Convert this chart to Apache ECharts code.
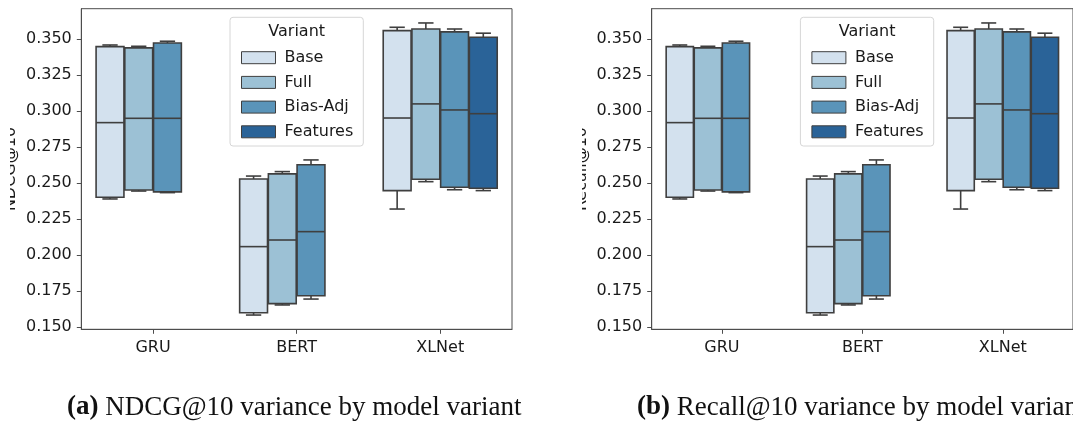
<!DOCTYPE html>
<html>
<head>
<meta charset="utf-8">
<script src="https://cdn.jsdelivr.net/npm/echarts@6/dist/echarts.min.js"></script>
<style>
html,body{margin:0;padding:0;background:#fff;}
#chart{width:1073px;height:421px;}
</style>
</head>
<body>
<div id="chart"></div>
<script>
// ---------- data ----------
const categories = ['GRU', 'BERT', 'XLNet'];
const variants = ['Base', 'Full', 'Bias-Adj', 'Features'];
const variantColors = ['#d3e1ee', '#9cc1d5', '#5a94b9', '#2a6398'];
// each entry: [categoryIndex, lowerWhisker, Q1, median, Q3, upperWhisker]
const baseBoxes = [
  [0, 0.2389, 0.2401, 0.2919, 0.3447, 0.3458],
  [1, 0.1583, 0.1599, 0.2058, 0.2528, 0.2548],
  [2, 0.2319, 0.2447, 0.2951, 0.3558, 0.3581]
];
const fullBoxes = [
  [0, 0.2444, 0.2451, 0.2949, 0.3438, 0.3449],
  [1, 0.1653, 0.1662, 0.2104, 0.2563, 0.2579],
  [2, 0.2509, 0.2526, 0.3049, 0.3569, 0.3611]
];
const biasAdjBoxes = [
  [0, 0.2433, 0.2438, 0.2949, 0.3472, 0.3484],
  [1, 0.1694, 0.1717, 0.2162, 0.2627, 0.2660],
  [2, 0.2453, 0.2470, 0.3007, 0.3549, 0.3569]
];
const featuresBoxes = [
  [2, 0.2447, 0.2463, 0.2981, 0.3512, 0.3540]
];
const yTicks = [0.150, 0.175, 0.200, 0.225, 0.250, 0.275, 0.300, 0.325, 0.350];
const yMin = 0.1484, yMax = 0.3710;
const panelNames = ['NDCG@10', 'Recall@10'];
const captionLetters = ['(a)', '(b)'];
const captionTexts = ['NDCG@10 variance by model variant', 'Recall@10 variance by model variant'];
const legendTitle = 'Variant';

// ---------- layout ----------
const FONT = 'DejaVu Sans';
const LINE = '#3f3f3f';
const SPINE = '#4d4d4d';
const panelLeft = [81.3, 651.7];
const gridTop = 8.7, gridW = 430.7, gridH = 320.6;

const allBoxes = [baseBoxes, fullBoxes, biasAdjBoxes, featuresBoxes];

function makeRender(k) {
  return function (params, api) {
    const cat = api.value(0);
    const lo = api.value(1), q1 = api.value(2), med = api.value(3), q3 = api.value(4), hi = api.value(5);
    const band = api.size([1, 0])[0];
    const slot = band * 0.2;
    const base = api.coord([cat, med]);
    const cx = base[0] + (k - 1.5) * slot;
    const w = slot * 0.97;
    const capW = w * 0.55;
    const yLo = api.coord([cat, lo])[1];
    const yQ1 = api.coord([cat, q1])[1];
    const yMed = base[1];
    const yQ3 = api.coord([cat, q3])[1];
    const yHi = api.coord([cat, hi])[1];
    const ls = {stroke: LINE, lineWidth: 1.6, fill: null};
    return {
      type: 'group',
      children: [
        {type: 'line', shape: {x1: cx, y1: yQ3, x2: cx, y2: yHi}, style: ls},
        {type: 'line', shape: {x1: cx, y1: yQ1, x2: cx, y2: yLo}, style: ls},
        {type: 'line', shape: {x1: cx - capW / 2, y1: yHi, x2: cx + capW / 2, y2: yHi}, style: ls},
        {type: 'line', shape: {x1: cx - capW / 2, y1: yLo, x2: cx + capW / 2, y2: yLo}, style: ls},
        {type: 'rect', shape: {x: cx - w / 2, y: yQ3, width: w, height: yQ1 - yQ3},
          style: {fill: variantColors[k], stroke: LINE, lineWidth: 1.6}},
        {type: 'line', shape: {x1: cx - w / 2, y1: yMed, x2: cx + w / 2, y2: yMed}, style: ls}
      ]
    };
  };
}

const grids = [], xAxes = [], yAxes = [], series = [], legends = [], titles = [], graphics = [];
for (let p = 0; p < 2; p++) {
  grids.push({left: panelLeft[p], top: gridTop, width: gridW, height: gridH,
    show: true, borderColor: SPINE, borderWidth: 1, backgroundColor: 'transparent'});
  xAxes.push({type: 'category', gridIndex: p, data: categories, boundaryGap: true,
    axisLine: {show: true, lineStyle: {color: SPINE, width: 1}},
    axisTick: {show: true, alignWithLabel: true, length: 4.5, lineStyle: {color: SPINE, width: 1}},
    axisLabel: {color: '#1a1a1a', fontFamily: FONT, fontSize: 16, margin: 11},
    splitLine: {show: false}});
  yAxes.push({type: 'value', gridIndex: p, min: yMin, max: yMax,
    name: panelNames[p], nameLocation: 'middle', nameRotate: 90, nameGap: 62,
    nameTextStyle: {color: '#1a1a1a', fontFamily: FONT, fontSize: 16},
    axisLine: {show: true, lineStyle: {color: SPINE, width: 1}},
    axisTick: {show: true, length: 4.5, customValues: yTicks, lineStyle: {color: SPINE, width: 1}},
    axisLabel: {color: '#1a1a1a', fontFamily: FONT, fontSize: 16, margin: 9.5, customValues: yTicks,
      formatter: v => v.toFixed(3)},
    splitLine: {show: false}});
  for (let k = 0; k < 4; k++) {
    series.push({type: 'custom', name: variants[k], xAxisIndex: p, yAxisIndex: p,
      renderItem: makeRender(k), data: allBoxes[k],
      encode: {x: 0, y: [1, 2, 3, 4, 5]},
      itemStyle: {color: variantColors[k]}, z: 3, animation: false});
  }
  const off = panelLeft[p] - panelLeft[0];
  legends.push({orient: 'vertical', left: 236 + off, top: 44.7, itemWidth: 34, itemHeight: 12,
    itemGap: 8.7, icon: 'rect', data: variants, selectedMode: false,
    itemStyle: {borderColor: LINE, borderWidth: 1},
    textStyle: {color: '#1a1a1a', fontFamily: FONT, fontSize: 16, lineHeight: 16, padding: [0, 0, 0, 4]}});
  graphics.push({type: 'rect', x: 230 + off, y: 17.3, z: 0,
    shape: {width: 133.3, height: 128.7, r: 3},
    style: {fill: 'rgba(255,255,255,0.8)', stroke: '#d6d6d6', lineWidth: 1}});
  graphics.push({type: 'text', x: 296.7 + off, y: 31.7, z: 10,
    style: {text: legendTitle, fill: '#1a1a1a', fontFamily: FONT, fontSize: 16,
      align: 'center', verticalAlign: 'middle'}});
  titles.push({text: '{b|' + captionLetters[p] + '} ' + captionTexts[p], left: [62, 632][p], top: 389,
    textStyle: {fontFamily: 'Liberation Serif', fontSize: 27, fontWeight: 'normal', color: '#111',
      rich: {b: {fontFamily: 'Liberation Serif', fontSize: 27, fontWeight: 'bold', color: '#111'}}}});
}
// trim masks (the original subfigures are cropped at their left edges)
graphics.push({type: 'rect', x: 0, y: 0, z: 100, shape: {width: 10, height: 360}, style: {fill: '#fff'}});
graphics.push({type: 'rect', x: 530, y: 0, z: 100, shape: {width: 52, height: 360}, style: {fill: '#fff'}});

const chart = echarts.init(document.getElementById('chart'), null, {renderer: 'canvas'});
chart.setOption({
  animation: false,
  backgroundColor: '#fff',
  title: titles,
  grid: grids, xAxis: xAxes, yAxis: yAxes, series: series, legend: legends,
  graphic: graphics
});
</script>
</body>
</html>
